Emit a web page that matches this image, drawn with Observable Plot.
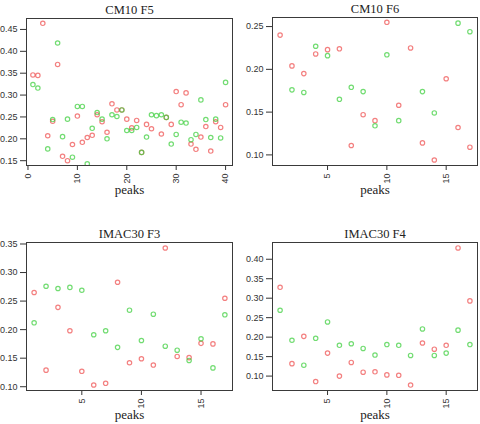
<!DOCTYPE html>
<html>
<head>
<meta charset="utf-8">
<script src="https://cdn.jsdelivr.net/npm/d3@7"></script>
<script src="https://cdn.jsdelivr.net/npm/@observablehq/plot@0.6"></script>
<style>
  body { margin: 0; background: #fff; }
  #wrap { position: relative; width: 480px; height: 424px; overflow: hidden; }
  .panel { position: absolute; width: 240px; height: 212px; }
</style>
</head>
<body>
<div id="wrap"></div>
<script>
// ---- data ----
const titles = ["CM10 F5", "CM10 F6", "IMAC30 F3", "IMAC30 F4"];
const xLabel = "peaks";

const cm10f5Red = [0.346,0.345,0.464,0.207,0.240,0.370,0.160,0.150,0.187,0.252,0.192,0.203,0.208,0.255,0.239,0.215,0.280,0.266,0.266,0.245,0.225,0.242,0.169,0.233,0.223,null,0.211,0.249,0.233,0.308,0.278,0.305,0.188,0.176,0.204,0.228,0.172,0.239,0.226,0.278];
const cm10f5Green = [0.324,0.316,null,0.177,0.244,0.419,0.205,0.245,0.158,0.274,0.274,0.143,0.224,0.260,0.245,0.200,0.255,0.251,0.266,0.219,0.219,0.226,0.169,0.204,0.255,0.253,0.255,0.249,0.188,0.210,0.238,0.236,0.198,0.210,0.289,0.244,0.203,0.245,0.202,0.329];

const cm10f6Red = [0.240,0.204,0.195,0.218,0.223,0.224,0.111,0.147,0.140,0.255,0.158,0.225,0.114,0.094,0.189,0.132,0.109];
const cm10f6Green = [null,0.176,0.173,0.227,0.216,0.165,0.179,0.174,0.134,0.217,0.140,null,0.174,0.149,null,0.254,0.244];

const imac30f3Red = [0.265,0.129,0.239,0.198,0.127,0.103,0.106,0.283,0.142,0.149,0.138,0.343,0.153,0.151,0.176,0.175,0.255];
const imac30f3Green = [0.212,0.276,0.272,0.274,0.269,0.191,0.198,0.169,0.234,0.181,0.227,0.171,0.164,0.146,0.184,0.133,0.226];

const imac30f4Red = [0.328,0.132,0.202,0.086,0.159,0.100,0.135,0.110,0.111,0.103,0.102,0.077,0.185,0.169,0.179,0.429,0.293];
const imac30f4Green = [0.269,0.192,0.128,0.197,0.239,0.179,0.183,0.171,0.154,0.181,0.179,0.153,0.221,0.153,0.159,0.218,0.181];

const xTicksLong = [0, 10, 20, 30, 40];
const xTicksShort = [5, 10, 15];
const yTicksF5 = [0.15, 0.20, 0.25, 0.30, 0.35, 0.40, 0.45];
const yTicksF6 = [0.10, 0.15, 0.20, 0.25];
const yTicksF3 = [0.10, 0.15, 0.20, 0.25, 0.30, 0.35];
const yTicksF4 = [0.10, 0.15, 0.20, 0.25, 0.30, 0.35, 0.40];

// ---- layout / style ----
const RED = "#ee4f4f";
const GREEN = "#3ccf3c";
const panels = [
  {title: titles[0], red: cm10f5Red, green: cm10f5Green, xTicks: xTicksLong, yTicks: yTicksF5,
   left: 0, top: 0, m: [18, 8, 47, 26], xd: [-0.3, 41.4], yd: [0.139, 0.475]},
  {title: titles[1], red: cm10f6Red, green: cm10f6Green, xTicks: xTicksShort, yTicks: yTicksF6,
   left: 240, top: 0, m: [17, 3, 47, 32], xd: [0.36, 17.64], yd: [0.0876, 0.2606]},
  {title: titles[2], red: imac30f3Red, green: imac30f3Green, xTicks: xTicksShort, yTicks: yTicksF3,
   left: 0, top: 212, m: [30, 8, 34, 26], xd: [0.36, 17.64], yd: [0.0934, 0.3526]},
  {title: titles[3], red: imac30f4Red, green: imac30f4Green, xTicks: xTicksShort, yTicks: yTicksF4,
   left: 240, top: 212, m: [30, 3, 34, 32], xd: [0.36, 17.64], yd: [0.063, 0.443]}
];

const serif = "Liberation Serif, Times New Roman, serif";
const wrap = document.getElementById("wrap");
for (const p of panels) {
  const rows = (arr) => arr.map((v, i) => ({peak: i + 1, value: v})).filter(d => d.value != null);
  const chart = Plot.plot({
    width: 240,
    height: 212,
    marginTop: p.m[0], marginRight: p.m[1], marginBottom: p.m[2], marginLeft: p.m[3],
    style: {fontFamily: "Liberation Sans, Arial, sans-serif", fontSize: "9px", color: "#333", background: "transparent"},
    x: {domain: p.xd, ticks: p.xTicks, tickFormat: d => String(d), tickRotate: -90, tickSize: 5, tickPadding: 3, label: null},
    y: {domain: p.yd, ticks: p.yTicks, tickFormat: ".2f", tickSize: 6, tickPadding: 3, label: null},
    marks: [
      Plot.dot(rows(p.red), {x: "peak", y: "value", r: 2.2, stroke: RED, strokeWidth: 1.2, strokeOpacity: 0.72, fill: "none", clip: true}),
      Plot.dot(rows(p.green), {x: "peak", y: "value", r: 2.2, stroke: GREEN, strokeWidth: 1.2, strokeOpacity: 0.72, fill: "none", clip: true}),
      Plot.frame({stroke: "#3a3a3a", strokeWidth: 1}),
      Plot.text([p.title], {text: d => d, frameAnchor: "top", dy: -13, fontFamily: serif, fontSize: 12.5, fontWeight: "normal", fill: "#222"}),
      Plot.text([xLabel], {text: d => d, frameAnchor: "bottom", dy: 28, fontFamily: serif, fontSize: 13, fontWeight: "normal", fill: "#222"})
    ]
  });
  const div = document.createElement("div");
  div.className = "panel";
  div.style.left = p.left + "px";
  div.style.top = p.top + "px";
  div.appendChild(chart);
  wrap.appendChild(div);
}
</script>
</body>
</html>
